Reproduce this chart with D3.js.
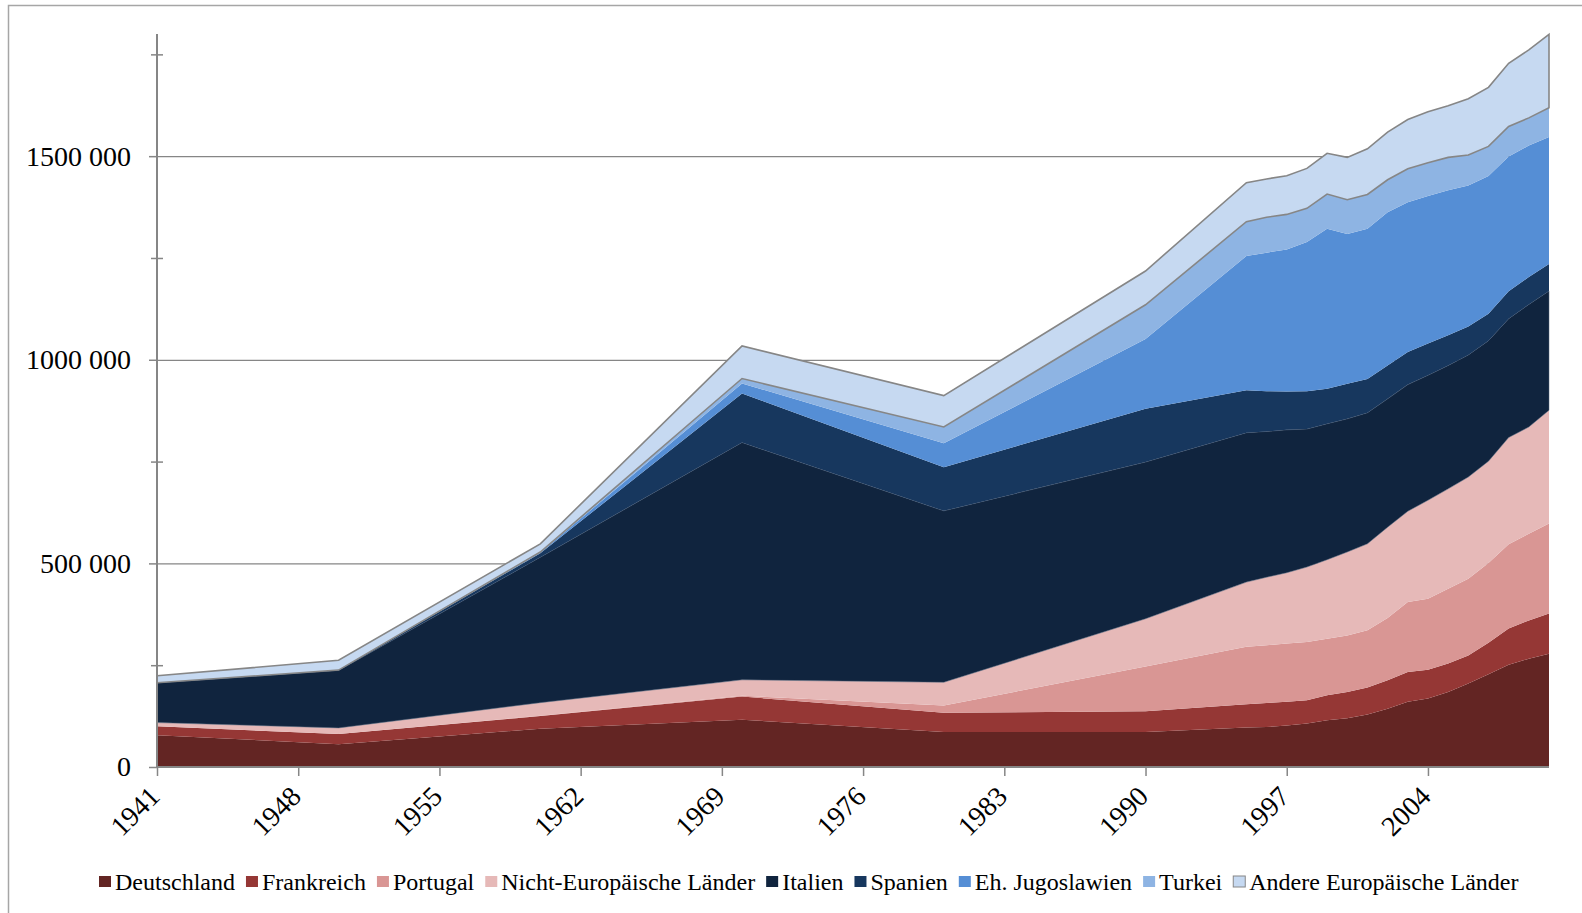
<!DOCTYPE html>
<html>
<head>
<meta charset="utf-8">
<script src="https://cdn.jsdelivr.net/npm/d3@7"></script>
<style>
  html, body { margin: 0; padding: 0; background: #ffffff; }
  svg { display: block; }
  text { font-family: "Liberation Serif", "Times New Roman", serif; fill: #000; }
</style>
</head>
<body>
<script>
// ---------- data (persons) ----------
const years = [1941,1950,1960,1970,1980,1990,1995,1996,1997,1998,1999,2000,2001,2002,2003,2004,2005,2006,2007,2008,2009,2010];
const deutschland  = [78000,56000,94000,116000,86000,86000,97000,98000,102000,107000,115000,120000,129000,143000,160000,168000,184000,205000,228000,251000,266000,278000];
const frankreich   = [22000,25000,31000,57000,47000,51000,57000,59000,58000,57000,61000,64000,66000,70000,73000,71000,70000,69000,77000,89000,94000,99000];
const portugal     = [0,0,1000,2000,18000,110000,141000,142000,143000,143000,139000,139000,141000,153000,172000,174000,184000,188000,196000,207000,213000,221000];
const nichtEuropa  = [9000,15000,32000,39000,57000,117000,159000,167000,174000,184000,194000,205000,212000,223000,223000,242000,245000,250000,250000,262000,262000,278000];
const italien      = [97000,141000,357000,583000,421000,385000,367000,358000,351000,339000,334000,327000,322000,315000,311000,307000,303000,300000,296000,292000,301000,293000];
const spanien      = [1000,1000,10000,120000,107000,131000,104000,99000,94000,93000,86000,86000,83000,82000,80000,78000,74000,70000,66000,67000,67000,66000];
const jugoslawien  = [0,0,2000,25000,59000,171000,330000,340000,349000,366000,393000,368000,369000,376000,368000,362000,356000,346000,338000,331000,323000,312000];
const turkei       = [0,0,1000,12000,40000,84000,84000,87000,86000,83000,85000,84000,84000,80000,82000,82000,81000,75000,73000,74000,68000,72000];
const andere       = [17000,24000,20000,80000,77000,83000,96000,94000,95000,98000,100000,104000,112000,117000,121000,125000,127000,138000,145000,155000,167000,180000];

const seriesNames = ["Deutschland","Frankreich","Portugal","Nicht-Europäische Länder","Italien","Spanien","Eh. Jugoslawien","Turkei","Andere Europäische Länder"];
const seriesValues = [deutschland, frankreich, portugal, nichtEuropa, italien, spanien, jugoslawien, turkei, andere];
const seriesColors = ["#632523","#953735","#D99694","#E6B9B8","#10243E","#17375E","#558ED5","#8EB4E3","#C6D9F1"];

const xTicks = [1941,1948,1955,1962,1969,1976,1983,1990,1997,2004];
const yMajorTicks = [0,500000,1000000,1500000];
const yTickLabels = ["0","500 000","1000 000","1500 000"];
const yMinorTicks = [250000,750000,1250000,1750000];
const yMax = 1800000;

// ---------- build ----------
const W = 1582, H = 913;
const plotLeft = 157, plotRight = 1549, plotTop = 34, plotBottom = 767;

const svg = d3.select("body").append("svg").attr("width", W).attr("height", H);

// outer frame
svg.append("rect").attr("x", 8.5).attr("y", 5.5).attr("width", 1620).attr("height", 1000)
  .attr("fill", "#fff").attr("stroke", "#a6a6a6").attr("stroke-width", 1.5);

const x = d3.scaleLinear().domain([years[0], years[years.length-1]]).range([plotLeft, plotRight]);
const y = d3.scaleLinear().domain([0, yMax]).range([plotBottom, plotTop]);

// gridlines
const grid = svg.append("g").attr("transform", `translate(${plotLeft},0)`)
  .call(d3.axisLeft(y).tickValues(yMajorTicks.slice(1)).tickSize(-(plotRight-plotLeft)).tickFormat(""));
grid.select(".domain").remove();
grid.selectAll("line").attr("stroke", "#868686").attr("stroke-width", 1.3);

// stacked data
const table = years.map((yr, i) => {
  const o = { year: yr };
  seriesNames.forEach((n, k) => o[n] = seriesValues[k][i]);
  return o;
});
const layers = d3.stack().keys(seriesNames)(table);

const area = d3.area()
  .x(d => x(d.data.year))
  .y0(d => y(d[0]))
  .y1(d => y(d[1]));

svg.append("g").selectAll("path").data(layers).join("path")
  .attr("d", area)
  .attr("fill", (d, i) => seriesColors[i])
  .attr("stroke", (d, i) => i === 8 ? "#868686" : (i === 4 ? "#56647a" : "none"))
  .attr("stroke-width", (d, i) => i === 8 ? 1.6 : 0.5)
  .attr("stroke-linejoin", "miter");

// x axis
const xAxis = svg.append("g").attr("transform", `translate(0,${plotBottom})`)
  .call(d3.axisBottom(x).tickValues(xTicks).tickSize(9).tickFormat(d => String(d)));
xAxis.select(".domain").remove();
xAxis.selectAll("line").attr("stroke", "#868686").attr("stroke-width", 1.5);
xAxis.selectAll("text")
  .attr("x", 4).attr("y", 31).attr("dy", 0)
  .attr("text-anchor", "end")
  .attr("transform", "rotate(-45 4 31)")
  .style("font-size", "28px")
  .style("font-family", '"Liberation Serif", "Times New Roman", serif')
  .attr("fill", "#000");
svg.append("line").attr("x1", x.range()[0]).attr("x2", x.range()[1])
  .attr("y1", y(0)).attr("y2", y(0)).attr("stroke", "#868686").attr("stroke-width", 2);

// y axis
const yAxis = svg.append("g").attr("transform", `translate(${plotLeft},0)`)
  .call(d3.axisLeft(y).tickValues(yMajorTicks).tickSize(8).tickFormat((d, i) => yTickLabels[i]));
yAxis.select(".domain").remove();
yAxis.selectAll("line").attr("stroke", "#868686").attr("stroke-width", 1.5);
yAxis.selectAll("text")
  .attr("x", -26).attr("dy", "0.32em")
  .style("font-size", "28px")
  .style("font-family", '"Liberation Serif", "Times New Roman", serif')
  .attr("fill", "#000");

const yMinor = svg.append("g").attr("transform", `translate(${plotLeft},0)`)
  .call(d3.axisLeft(y).tickValues(yMinorTicks).tickSize(6).tickFormat(""));
yMinor.select(".domain").remove();
yMinor.selectAll("line").attr("x1", 6).attr("stroke", "#868686").attr("stroke-width", 1.5);

svg.append("line").attr("x1", plotLeft).attr("x2", plotLeft)
  .attr("y1", y(0)).attr("y2", y(yMax)).attr("stroke", "#868686").attr("stroke-width", 2);

// legend
const legend = svg.append("g");
let lx = 99;
seriesNames.forEach((n, i) => {
  const g = legend.append("g").attr("transform", `translate(${lx},0)`);
  g.append("rect").attr("x", 0).attr("y", 876).attr("width", 12).attr("height", 11)
    .attr("fill", seriesColors[i])
    .attr("stroke", i === 8 ? "#868686" : "none").attr("stroke-width", 1);
  const t = g.append("text").attr("x", 16).attr("y", 890).text(n)
    .style("font-size", "24px");
  lx += 16 + t.node().getComputedTextLength() + 11;
});
</script>
</body>
</html>
